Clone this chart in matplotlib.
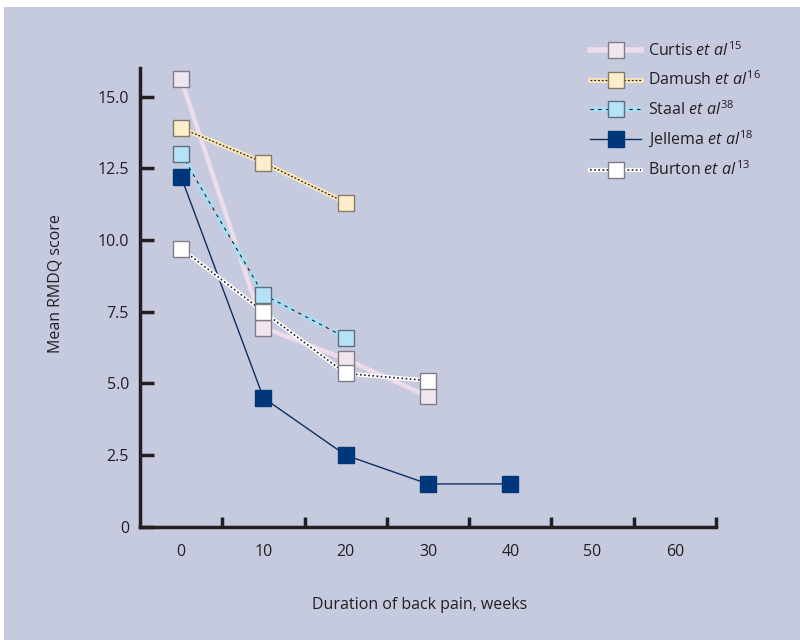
import matplotlib.pyplot as plt
from matplotlib.patches import Rectangle

plt.rcParams['font.family'] = ['Open Sans', 'DejaVu Sans']
plt.rcParams['mathtext.fontset'] = 'custom'
plt.rcParams['mathtext.rm'] = 'Open Sans'
plt.rcParams['mathtext.it'] = 'Open Sans:italic'

# data
curtis_x = [0, 10, 20, 30]
curtis_y = [15.6, 6.95, 5.85, 4.55]
damush_x = [0, 10, 20]
damush_y = [13.9, 12.7, 11.3]
staal_x = [0, 10, 20]
staal_y = [13.0, 8.1, 6.6]
jellema_x = [0, 10, 20, 30, 40]
jellema_y = [12.2, 4.5, 2.5, 1.5, 1.5]
burton_x = [0, 10, 20, 30]
burton_y = [9.7, 7.5, 5.35, 5.1]

x_labels = [0, 10, 20, 30, 40, 50, 60]
x_ticks = [5, 15, 25, 35, 45, 55, 65]
y_ticks = [0, 2.5, 5.0, 7.5, 10.0, 12.5, 15.0]
y_labels = ['0', '2.5', '5.0', '7.5', '10.0', '12.5', '15.0']

bg = '#C5CADF'
dark = '#231F20'
edge = '#7E7C86'

fig = plt.figure(figsize=(8, 6.4), dpi=100)
fig.patches.append(Rectangle((0.005, 0), 0.995, 1 - 7 / 640, transform=fig.transFigure,
                             facecolor=bg, edgecolor='none', zorder=-10))
ax = fig.add_axes([0.175, 0.1766, 0.72, 0.7174])
ax.set_facecolor('none')

ms = 11.5
# Curtis
ax.plot(curtis_x, curtis_y, color='#EEDCEA', lw=3.2, solid_capstyle='butt', zorder=2)
h_c = ax.plot(curtis_x, curtis_y, ls='none', marker='s', ms=ms, mfc='#F1E6EF', mec=edge, mew=1, zorder=3)[0]
# Damush
d1 = ax.plot(damush_x, damush_y, color='#FBE6BC', lw=3.5, zorder=2)[0]
d2 = ax.plot(damush_x, damush_y, color=dark, lw=0.9, ls=(0, (1.5, 1.5)), zorder=2)[0]
d3 = ax.plot(damush_x, damush_y, ls='none', marker='s', ms=ms, mfc='#FDEECB', mec='#857A66', mew=1, zorder=3)[0]
# Staal
s1 = ax.plot(staal_x, staal_y, color='#A9DDF3', lw=3.8, ls=(0, (5, 1.5)), zorder=2)[0]
s2 = ax.plot(staal_x, staal_y, color=dark, lw=0.8, ls=(0, (3, 4)), zorder=2)[0]
s3 = ax.plot(staal_x, staal_y, ls='none', marker='s', ms=ms, mfc='#B5E2F6', mec='#5F6E78', mew=1, zorder=3)[0]
# Jellema
j1 = ax.plot(jellema_x, jellema_y, color='#0E2E5E', lw=1, zorder=2)[0]
j2 = ax.plot(jellema_x, jellema_y, ls='none', marker='s', ms=ms, mfc='#00377A', mec='#00377A', mew=1, zorder=3)[0]
# Burton
b1 = ax.plot(burton_x, burton_y, color='white', lw=3, zorder=2)[0]
b2 = ax.plot(burton_x, burton_y, color=dark, lw=1.2, ls=(0, (1, 1.5)), zorder=2)[0]
b3 = ax.plot(burton_x, burton_y, ls='none', marker='s', ms=ms, mfc='white', mec=edge, mew=1, zorder=3)[0]

c1 = ax.plot([], [], color='#EEDCEA', lw=4)[0]

ax.set_xlim(-5, 65)
ax.set_ylim(0, 16)
for s in ['top', 'right']:
    ax.spines[s].set_visible(False)
for s in ['left', 'bottom']:
    ax.spines[s].set_linewidth(2.5)
    ax.spines[s].set_color(dark)

ax.set_xticks(x_ticks)
ax.set_xticklabels([])
ax.tick_params(axis='x', which='major', direction='in', length=7, width=2.5, color=dark)
ax.set_xticks(x_labels, minor=True)
ax.set_xticklabels([str(v) for v in x_labels], minor=True)
ax.tick_params(axis='x', which='minor', length=0, pad=12, labelsize=11.5, labelcolor=dark)

ax.set_yticks(y_ticks)
ax.set_yticklabels(y_labels)
ax.tick_params(axis='y', direction='in', length=10, width=2.5, color=dark, pad=8,
               labelsize=11.5, labelcolor=dark)

fig.text(55 / 800, 1 - 284 / 640, 'Mean RMDQ score', rotation=90, ha='center', va='center',
         fontsize=11.5, color=dark)
fig.text(420 / 800, 1 - 605 / 640, 'Duration of back pain, weeks', ha='center', va='center',
         fontsize=11.5, color=dark)

handles = [(c1, h_c), (d1, d2, d3), (s1, s2, s3), (j1, j2), (b1, b2, b3)]
labels = [r'Curtis $\it{et\ al}^{15}$', r'Damush $\it{et\ al}^{16}$', r'Staal $\it{et\ al}^{38}$',
          r'Jellema $\it{et\ al}^{18}$', r'Burton $\it{et\ al}^{13}$']
fig.legend(handles, labels, loc='upper left', bbox_to_anchor=(576 / 800, 1 - 27 / 640),
           frameon=False, fontsize=11.5, numpoints=1, handlelength=3.2, handletextpad=0.4,
           labelspacing=0.66, labelcolor=dark)

plt.savefig('out.png', dpi=100)
plt.close()
